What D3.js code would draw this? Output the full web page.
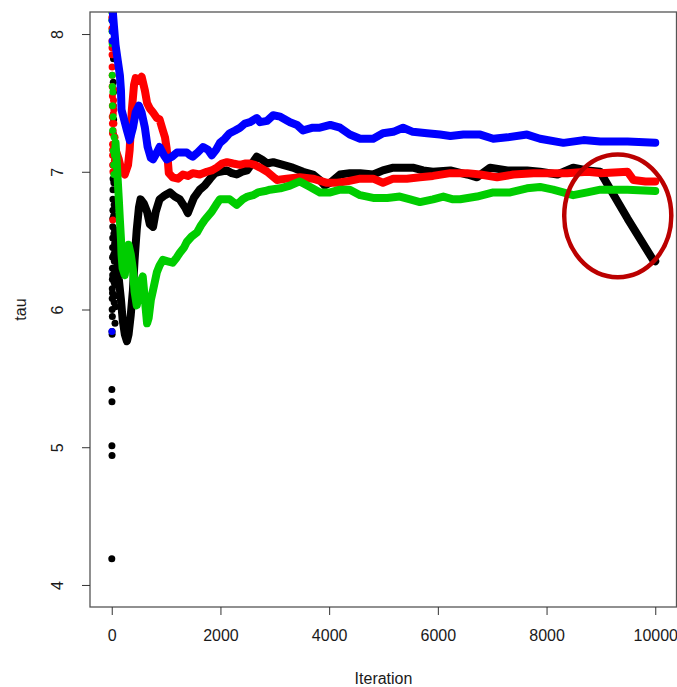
<!DOCTYPE html>
<html>
<head>
<meta charset="utf-8">
<script src="https://cdn.jsdelivr.net/npm/d3@7"></script>
<style>
  html, body { margin: 0; padding: 0; background: #fff; }
  svg { display: block; }
  text { font-family: "Liberation Sans", Arial, sans-serif; fill: #1a1a1a; }
</style>
</head>
<body>
<svg id="chart" width="677" height="687"></svg>
<script>
// ---------------- DATA ----------------
const xTicks = [0, 2000, 4000, 6000, 8000, 10000];
const yTicks = [4, 5, 6, 7, 8];
const xLabel = "Iteration";
const yLabel = "tau";

// early scattered draws (iteration, tau)
const blackEarly = [[1,4.19],[2,5.42],[3,5.01],[4,5.33],[5,4.94],[6,5.84],[7,5.82],[8,6.0],[9,6.08],[10,6.15],[11,5.95],[12,6.22],[13,6.30],[14,6.12],[15,6.38],[16,6.45],[17,6.25],[18,6.52],[19,6.60],[20,6.66],[21,6.72],[22,6.80],[23,6.87],[24,6.95],[25,7.05],[26,7.28],[27,7.48],[28,7.65],[29,7.93],[30,8.10],[31,8.15],[32,7.82],[33,7.58],[34,7.20],[35,7.38],[36,6.68],[37,7.12],[38,6.40],[39,6.92],[40,6.55],[42,6.20],[44,6.76],[45,6.05],[48,6.35],[50,6.58],[52,6.28],[54,6.48],[56,6.42],[58,6.18],[60,5.90],[62,6.30],[64,6.10],[68,6.02]];
const redEarly = [[2,8.12],[3,8.04],[4,7.95],[5,7.90],[6,7.85],[7,7.76],[8,7.62],[9,7.70],[10,7.40],[11,7.48],[12,7.55],[13,7.35],[14,7.28],[15,7.20],[16,7.12],[17,7.16],[18,7.05],[20,6.65],[22,7.00],[25,7.30],[28,7.42],[30,7.48],[33,7.52],[35,7.60],[38,7.45],[40,7.35],[43,7.26],[45,7.20],[48,7.08],[50,7.00],[55,7.10],[60,7.25],[65,7.18]];
const greenEarly = [[1,8.16],[3,8.10],[5,8.02],[8,7.93],[10,7.70],[12,7.62],[14,7.48],[18,7.30],[22,7.58],[25,7.40],[28,7.15],[35,7.05],[40,6.98],[45,7.25],[50,7.12],[60,7.18]];
const blueEarly = [[3,5.84],[5,8.10],[8,7.95],[12,8.02]];

// running traces (iteration, tau)
const blackTrace = [[70,6.51],[130,6.22],[170,6.07],[200,5.93],[240,5.82],[280,5.77],[310,5.82],[350,5.96],[390,6.14],[420,6.36],[460,6.58],[500,6.74],[530,6.80],[590,6.77],[650,6.71],[700,6.62],[760,6.60],[810,6.71],[880,6.80],[980,6.83],[1070,6.85],[1160,6.82],[1250,6.80],[1350,6.74],[1400,6.70],[1460,6.76],[1510,6.81],[1620,6.87],[1710,6.90],[1810,6.95],[1900,6.99],[1990,7.00],[2120,7.01],[2210,6.99],[2300,6.98],[2400,7.00],[2490,7.01],[2580,7.06],[2670,7.11],[2760,7.09],[2860,7.06],[2970,7.07],[3150,7.05],[3330,7.03],[3520,7.00],[3700,6.98],[3830,6.94],[3920,6.90],[4020,6.92],[4200,6.98],[4380,6.99],[4570,6.99],[4810,6.98],[4990,7.01],[5180,7.03],[5360,7.03],[5540,7.03],[5730,7.01],[5910,7.00],[6230,7.01],[6540,6.98],[6720,6.96],[6960,7.03],[7280,7.01],[7640,7.01],[7880,7.00],[8200,6.98],[8490,7.03],[8750,7.01],[8990,7.00],[9030,6.97],[9490,6.66],[9960,6.36],[10000,6.35]];
const redTrace = [[70,7.16],[130,7.09],[180,7.01],[240,6.98],[300,7.05],[330,7.16],[370,7.45],[410,7.63],[440,7.68],[500,7.66],[550,7.69],[610,7.59],[650,7.50],[700,7.46],[760,7.43],[830,7.39],[880,7.38],[940,7.30],[980,7.25],[1010,7.17],[1030,7.09],[1050,6.99],[1120,6.96],[1220,6.95],[1310,6.98],[1400,6.97],[1490,6.99],[1620,6.98],[1750,7.00],[1840,7.01],[1930,7.03],[2030,7.06],[2120,7.07],[2230,7.06],[2360,7.05],[2450,7.06],[2540,7.06],[2630,7.05],[2730,7.03],[2860,7.00],[3040,6.94],[3220,6.95],[3460,6.96],[3700,6.95],[3960,6.92],[4150,6.92],[4330,6.93],[4570,6.95],[4810,6.95],[4990,6.92],[5180,6.95],[5430,6.95],[5670,6.96],[5910,6.97],[6230,6.99],[6540,6.99],[6780,6.98],[7090,6.96],[7390,6.98],[7760,6.99],[8070,6.99],[8380,6.99],[8750,7.00],[8990,6.99],[9490,7.00],[9600,6.94],[9820,6.93],[10000,6.93]];
const greenTrace = [[70,7.21],[90,7.08],[110,6.94],[130,6.80],[150,6.65],[170,6.51],[180,6.40],[200,6.30],[240,6.25],[280,6.40],[310,6.47],[350,6.40],[390,6.29],[420,6.13],[460,6.03],[500,6.11],[530,6.20],[570,6.24],[610,6.07],[650,5.90],[680,5.94],[720,6.07],[760,6.14],[830,6.27],[880,6.32],[940,6.36],[1030,6.35],[1120,6.34],[1200,6.38],[1250,6.41],[1330,6.45],[1380,6.49],[1470,6.53],[1570,6.56],[1640,6.61],[1710,6.65],[1840,6.71],[1920,6.76],[1990,6.80],[2080,6.80],[2170,6.80],[2300,6.76],[2410,6.80],[2500,6.82],[2600,6.83],[2690,6.85],[2820,6.86],[2910,6.87],[3100,6.88],[3280,6.90],[3460,6.93],[3650,6.89],[3830,6.85],[4020,6.85],[4200,6.87],[4380,6.87],[4570,6.83],[4810,6.81],[5070,6.81],[5300,6.82],[5490,6.80],[5670,6.78],[5910,6.80],[6100,6.82],[6280,6.80],[6410,6.80],[6720,6.82],[7020,6.85],[7330,6.85],[7640,6.88],[7880,6.89],[8120,6.87],[8490,6.83],[8750,6.85],[8990,6.87],[9490,6.87],[10000,6.86]];
const blueTrace = [[20,8.16],[40,8.06],[70,7.92],[110,7.81],[150,7.70],[170,7.59],[180,7.45],[220,7.39],[280,7.30],[330,7.23],[390,7.32],[440,7.43],[500,7.48],[550,7.43],[610,7.32],[660,7.18],[720,7.10],[760,7.09],[830,7.14],[880,7.18],[960,7.12],[1010,7.09],[1110,7.11],[1200,7.14],[1290,7.14],[1380,7.14],[1440,7.12],[1490,7.11],[1580,7.14],[1680,7.18],[1770,7.16],[1840,7.12],[1920,7.16],[1990,7.21],[2080,7.24],[2170,7.28],[2270,7.30],[2360,7.32],[2450,7.35],[2540,7.36],[2670,7.39],[2730,7.36],[2860,7.37],[2970,7.41],[3100,7.40],[3280,7.36],[3410,7.34],[3520,7.30],[3700,7.32],[3830,7.32],[4020,7.34],[4200,7.32],[4380,7.27],[4570,7.24],[4810,7.24],[4990,7.28],[5180,7.29],[5360,7.32],[5540,7.29],[5800,7.28],[6040,7.27],[6230,7.26],[6470,7.27],[6780,7.27],[7020,7.24],[7280,7.25],[7640,7.27],[7880,7.24],[8310,7.21],[8680,7.23],[8990,7.22],[9490,7.22],[10000,7.21]];

const seriesNames = ["black", "red", "green", "blue"];
const seriesColors = ["#000000", "#ff0000", "#00cd00", "#0000ff"];
const seriesTraces = [blackTrace, redTrace, greenTrace, blueTrace];
const seriesEarly = [blackEarly, redEarly, greenEarly, blueEarly];

// highlight ellipse annotation (data units)
const ringCenter = [9310, 6.68];
const ringRadius = [985, 0.445];

// ---------------- LAYOUT ----------------
const svg = d3.select("#chart");
const padL = 90, padR = 677, padT = 12, padB = 607;

const x = d3.scaleLinear().domain([-400, 10400]).range([padL, padR]);
const y = d3.scaleLinear().domain([3.84, 8.16]).range([padB, padT]);

svg.append("defs").append("clipPath").attr("id", "plotclip")
  .append("rect").attr("x", padL).attr("y", padT)
  .attr("width", padR - padL).attr("height", padB - padT);

const plot = svg.append("g").attr("clip-path", "url(#plotclip)");

const line = d3.line().x(d => x(d[0])).y(d => y(d[1])).curve(d3.curveLinear);

seriesNames.forEach((name, i) => {
  const g = plot.append("g").attr("class", "series-" + name);
  g.selectAll("circle").data(seriesEarly[i]).enter().append("circle")
    .attr("cx", d => x(d[0])).attr("cy", d => y(d[1])).attr("r", 3.5)
    .attr("fill", seriesColors[i]);
  g.append("path").datum(seriesTraces[i])
    .attr("d", line)
    .attr("fill", "none")
    .attr("stroke", seriesColors[i])
    .attr("stroke-width", 8)
    .attr("stroke-linejoin", "round")
    .attr("stroke-linecap", "round");
});

// annotation ring
svg.append("ellipse")
  .attr("cx", x(ringCenter[0])).attr("cy", y(ringCenter[1]))
  .attr("rx", x(ringCenter[0] + ringRadius[0]) - x(ringCenter[0]))
  .attr("ry", y(ringCenter[1] - ringRadius[1]) - y(ringCenter[1]))
  .attr("fill", "none").attr("stroke", "#bb0000").attr("stroke-width", 4.5);

// box
svg.append("rect").attr("x", padL).attr("y", padT)
  .attr("width", padR - padL - 0.5).attr("height", padB - padT)
  .attr("fill", "none").attr("stroke", "#555").attr("stroke-width", 1.3);

// x axis
const xAxis = d3.axisBottom(x).tickValues(xTicks).tickSize(8).tickPadding(15)
  .tickFormat(d3.format("d"));
const gx = svg.append("g").attr("transform", `translate(0,${padB})`).call(xAxis);
gx.select(".domain").remove();
gx.selectAll(".tick line").attr("stroke", "#333");
gx.selectAll(".tick text").attr("font-size", 16).attr("font-family", "Liberation Sans, Arial, sans-serif").attr("fill", "#1a1a1a");

// y axis
const yAxis = d3.axisLeft(y).tickValues(yTicks).tickSize(8).tickFormat(d3.format("d"));
const gy = svg.append("g").attr("transform", `translate(${padL},0)`).call(yAxis);
gy.select(".domain").remove();
gy.selectAll(".tick line").attr("stroke", "#333");
gy.selectAll(".tick text")
  .attr("font-size", 16).attr("font-family", "Liberation Sans, Arial, sans-serif").attr("fill", "#1a1a1a")
  .attr("x", null).attr("dy", null)
  .attr("text-anchor", "middle")
  .attr("transform", "translate(-27,0) rotate(-90)");

// axis titles
svg.append("text").attr("x", (x(0) + x(10000)) / 2).attr("y", 684)
  .attr("text-anchor", "middle").attr("font-size", 16).text(xLabel);
svg.append("text").attr("transform", `translate(26,${(y(4) + y(8)) / 2}) rotate(-90)`)
  .attr("text-anchor", "middle").attr("font-size", 16).text(yLabel);
</script>
</body>
</html>
